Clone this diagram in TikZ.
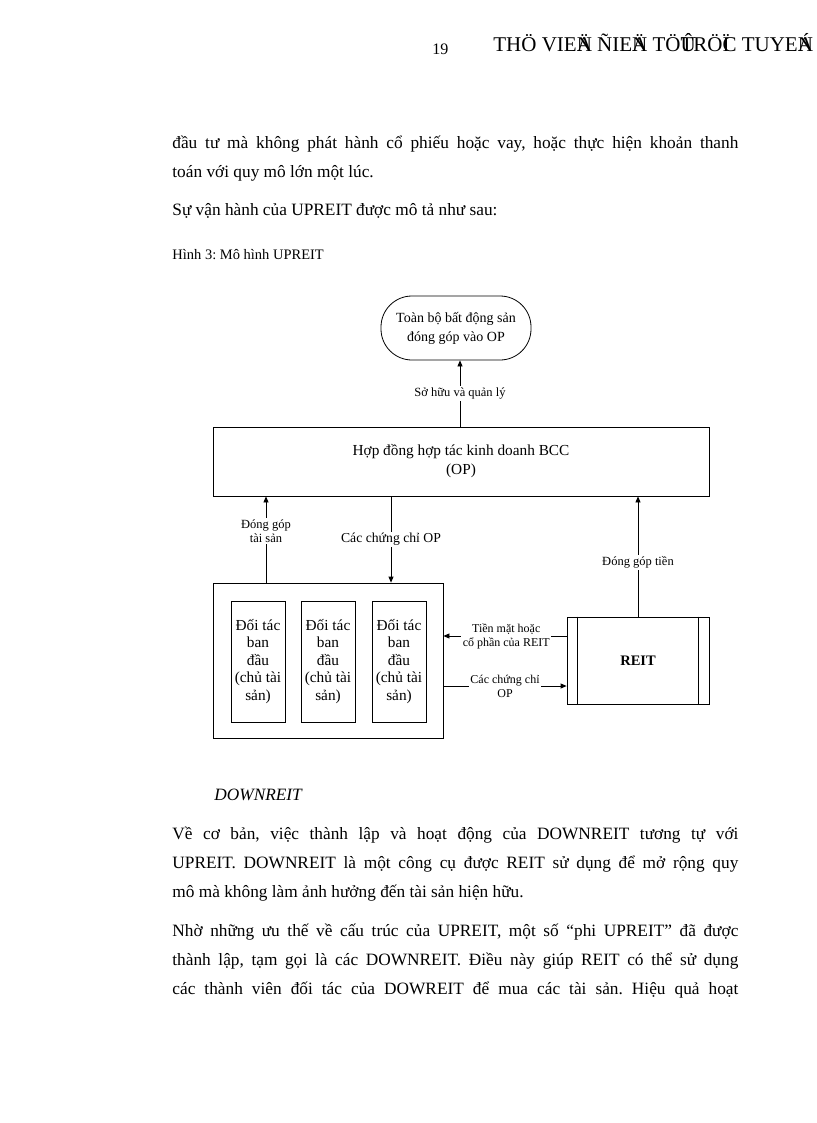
\documentclass[tikz,border=0pt]{standalone}
\usepackage{fontspec}
\setmainfont{Liberation Serif}
\usetikzlibrary{arrows.meta}
\frenchspacing
\begin{document}
\begin{tikzpicture}[x=1pt,y=-1pt,line width=0.8pt,
  body/.style={anchor=base west,inner sep=0pt,font=\fontsize{17.3}{20}\selectfont},
  jline/.style={body},
  box/.style={draw,inner sep=0pt},
  dtext/.style={font=\fontsize{14}{17}\selectfont,align=center,inner sep=0pt},
  ptext/.style={font=\fontsize{15.3}{17}\selectfont,align=center,inner sep=0pt},
  lbl/.style={font=\fontsize{12.5}{14}\selectfont,align=center,fill=white,inner sep=1.5pt},
  arr/.style={-{Triangle[length=6pt,width=5pt]}}]
\useasboundingbox (0,0) rectangle (816,1123);
% header
\node[anchor=base west,inner sep=0pt,font=\fontsize{16}{18}\selectfont] (pg) at (432,55) {19};
\node[anchor=base west,inner sep=0pt,font=\fontsize{21}{23}\selectfont] (hd) at (493,52)
  {THÖ VIE\rlap{Ä}N ÑIE\rlap{Ä}N TÖ\rlap{Û}TRÖ\rlap{Ï}C TUYE\rlap{Á}N};
% top text
\node[jline] (l1) at (172,149) {\makebox[566pt][s]{đầu tư mà không phát hành cổ phiếu hoặc vay, hoặc thực hiện khoản thanh}};
\node[body] (l2) at (172,178) {toán với quy mô lớn một lúc.};
\node[body] (l3) at (172,216) {Sự vận hành của UPREIT được mô tả như sau:};
\node[anchor=base west,inner sep=0pt,font=\fontsize{14.5}{16}\selectfont] (cap) at (172,259) {Hình 3: Mô hình UPREIT};
% diagram
\node[draw,rounded corners=31pt,minimum width=150pt,minimum height=64pt,inner sep=0pt,dtext] (top) at (456,328)
  {Toàn bộ bất động sản\\[2pt]đóng góp vào OP};
\node[box,minimum width=496pt,minimum height=69pt] (bcc) at (461,461.5) {};
\node[dtext,font=\fontsize{15.3}{18}\selectfont] (bcct) at (461,461.5) {Hợp đồng hợp tác kinh doanh BCC\\[1pt](OP)};
\node[box,minimum width=230pt,minimum height=155pt] (part) at (328,660.5) {};
\node[box,minimum width=54pt,minimum height=121pt,ptext] (p1) at (258,661.5) {Đối tác\\[0.5pt]ban\\[0.5pt]đầu\\[0.5pt](chủ tài\\[0.5pt]sản)};
\node[box,minimum width=54pt,minimum height=121pt,ptext] (p2) at (328,661.5) {Đối tác\\[0.5pt]ban\\[0.5pt]đầu\\[0.5pt](chủ tài\\[0.5pt]sản)};
\node[box,minimum width=54pt,minimum height=121pt,ptext] (p3) at (399,661.5) {Đối tác\\[0.5pt]ban\\[0.5pt]đầu\\[0.5pt](chủ tài\\[0.5pt]sản)};
\node[box,minimum width=142pt,minimum height=87pt] (reit) at (638,660.5) {};
\node[dtext,font=\fontsize{14.5}{17}\selectfont\bfseries] (reitt) at (638,661) {REIT};
\draw ([xshift=11pt]reit.north west) -- ([xshift=11pt]reit.south west);
\draw ([xshift=-11pt]reit.north east) -- ([xshift=-11pt]reit.south east);
% connectors
\coordinate (so1) at (bcc.north -| 460,0);
\coordinate (so2) at (top.south -| 460,0);
\draw[arr] (so1) -- (so2) node[lbl,pos=0.5] (l_so) {Sở hữu và quản lý};
\draw[arr] (part.north -| 266,0) -- (bcc.south -| 266,0) node[lbl,pos=0.6] (l_dg) {Đóng góp\\tài sản};
\draw[arr] (bcc.south -| 391,0) -- (part.north -| 391,0) node[lbl,pos=0.5,font=\fontsize{13.7}{15}\selectfont] (l_cc) {Các chứng chỉ OP};
\draw[arr] (reit.north) -- (bcc.south -| reit.north) node[lbl,pos=0.45] (l_tien) {Đóng góp tiền};
\draw[arr] (reit.west |- 0,636) -- (part.east |- 0,636) node[lbl,pos=0.49,font=\fontsize{12}{14}\selectfont] (l_tm) {Tiền mặt hoặc\\cổ phần của REIT};
\draw[arr] (part.east |- 0,686) -- (reit.west |- 0,686) node[lbl,pos=0.5,font=\fontsize{12}{14}\selectfont] (l_op) {Các chứng chỉ\\OP};
% bottom text
\node[anchor=base west,inner sep=0pt,font=\fontsize{17.3}{20}\selectfont\itshape] (dr) at (214,800) {DOWNREIT};
\node[jline] (b1) at (172,839) {\makebox[566pt][s]{Về cơ bản, việc thành lập và hoạt động của DOWNREIT tương tự với}};
\node[jline] (b2) at (172,868) {\makebox[566pt][s]{UPREIT. DOWNREIT là một công cụ được REIT sử dụng để mở rộng quy}};
\node[body] (b3) at (172,897) {mô mà không làm ảnh hưởng đến tài sản hiện hữu.};
\node[jline] (b4) at (172,936) {\makebox[566pt][s]{Nhờ những ưu thế về cấu trúc của UPREIT, một số “phi UPREIT” đã được}};
\node[jline] (b5) at (172,965) {\makebox[566pt][s]{thành lập, tạm gọi là các DOWNREIT. Điều này giúp REIT có thể sử dụng}};
\node[jline] (b6) at (172,994) {\makebox[566pt][s]{các thành viên đối tác của DOWREIT để mua các tài sản. Hiệu quả hoạt}};
\end{tikzpicture}
\end{document}
